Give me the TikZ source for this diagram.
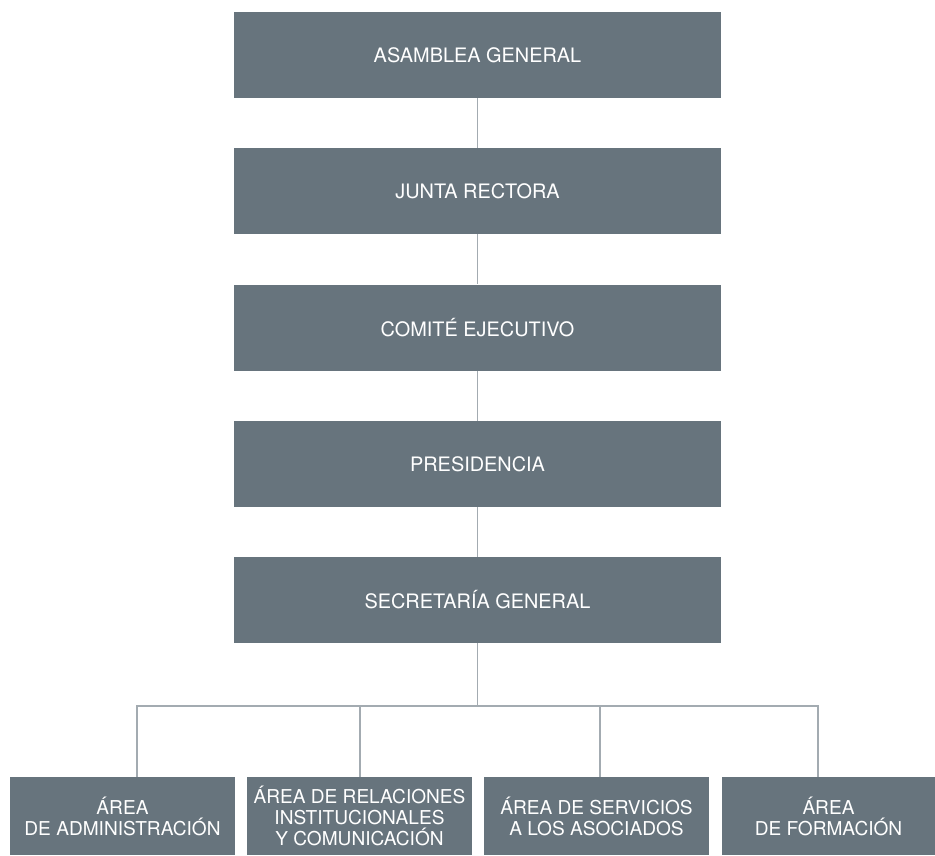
\documentclass[tikz,border=0pt]{standalone}
\usepackage{fontspec}
\setmainfont{TeX Gyre Heros}
\usetikzlibrary{positioning}

\definecolor{boxgray}{HTML}{67747D}
\definecolor{linegray}{HTML}{A3ABB1}

\tikzset{
  organ/.style={fill=boxgray,text=white,inner sep=0pt,
    minimum width=487pt,minimum height=86pt,
    font=\fontsize{19.9}{22}\selectfont},
  area/.style={fill=boxgray,text=white,inner sep=0pt,align=center,
    minimum width=225pt,minimum height=78pt,
    font=\fontsize{19.1}{21}\selectfont},
  link/.style={draw=linegray,line width=1.2pt}
}

\begin{document}
\begin{tikzpicture}[x=1pt,y=-1pt,line cap=butt]

  \useasboundingbox (0,0) rectangle (935,855);

  % governing bodies
  \node[organ] (asamblea)    at (477.5,55)     {ASAMBLEA GENERAL};
  \node[organ] (junta)       at (477.5,191.25) {JUNTA RECTORA};
  \node[organ] (comite)      at (477.5,327.5)  {COMITÉ EJECUTIVO};
  \node[organ] (presidencia) at (477.5,463.75) {PRESIDENCIA};
  \node[organ] (secretaria)  at (477.5,600)    {SECRETARÍA GENERAL};

  % areas
  \node[area] (admin)      at (122.5,816) {ÁREA\\DE ADMINISTRACIÓN};
  \node[area] (relaciones) at (359.5,816) {ÁREA DE RELACIONES\\INSTITUCIONALES\\Y COMUNICACIÓN};
  \node[area] (servicios)  at (596.5,816) {ÁREA DE SERVICIOS\\A LOS ASOCIADOS};
  \node[area,minimum width=213pt] (formacion) at (828.5,816) {ÁREA\\DE FORMACIÓN};

  % chain of command
  \draw[link] (asamblea.south) -- (junta.north);
  \draw[link] (junta.south) -- (comite.north);
  \draw[link] (comite.south) -- (presidencia.north);
  \draw[link] (presidencia.south) -- (secretaria.north);

  % branch to the areas
  \coordinate (j1) at (137,706);
  \coordinate (j2) at (360,706);
  \coordinate (j3) at (600,706);
  \coordinate (j4) at (818,706);
  \draw[link] (secretaria.south) -- (secretaria.south |- j1);
  \draw[link,line cap=rect] (j1) -- (j4);
  \draw[link] (j1) -- (j1 |- admin.north);
  \draw[link] (j2) -- (j2 |- relaciones.north);
  \draw[link] (j3) -- (j3 |- servicios.north);
  \draw[link] (j4) -- (j4 |- formacion.north);

\end{tikzpicture}
\end{document}
